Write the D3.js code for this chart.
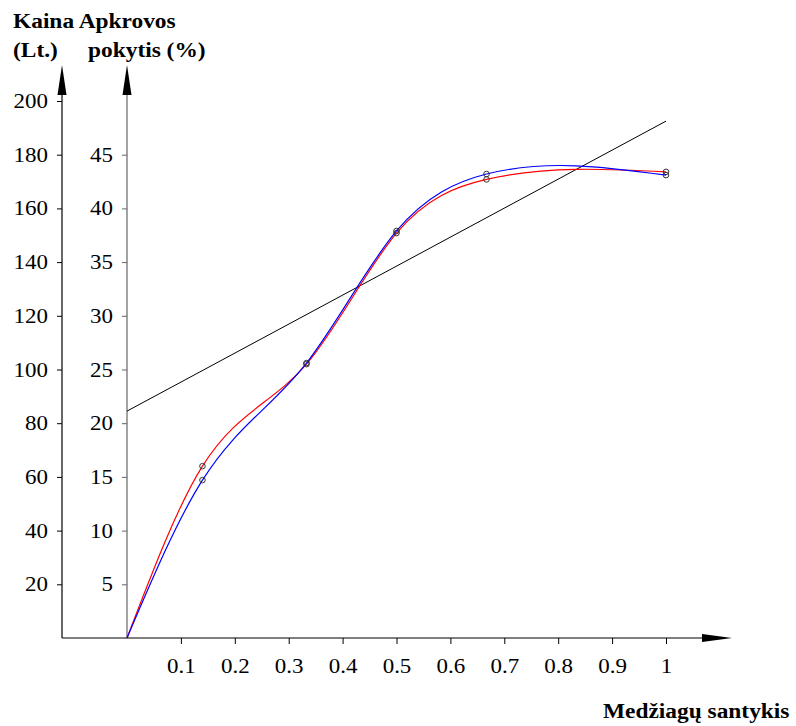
<!DOCTYPE html>
<meta charset="utf-8">
<script src="https://d3js.org/d3.v7.min.js"></script>
<style>
  body { margin: 0; background: #fff; }
</style>
<div id="chart"></div>
<script>

// data
var ratio = [0, 0.14, 0.333, 0.5, 0.667, 1];          // Medžiagų santykis
var loadRed = [0, 16.0, 25.5, 37.7, 42.7, 43.4];       // Apkrovos pokytis (%)
var loadBlue = [0, 14.7, 25.6, 37.9, 43.2, 43.1];
var priceLine = [{r: 0, lt: 84.5}, {r: 1, lt: 192.5}];  // Kaina (Lt.)
var priceTicks = [20, 40, 60, 80, 100, 120, 140, 160, 180, 200];
var loadTicks = [5, 10, 15, 20, 25, 30, 35, 40, 45];
var ratioTicks = [0.1, 0.2, 0.3, 0.4, 0.5, 0.6, 0.7, 0.8, 0.9, 1];

var width = 796, height = 726;
var serif = "'Liberation Serif'";
var stretch = 1.12;   // the original lettering is a little wider than normal

var svg = d3.select("#chart")
  .append("svg")
    .attr("width", width)
    .attr("height", height);

// scales
var x = d3.scaleLinear().domain([0, 1]).range([127, 666]);
var yPrice = d3.scaleLinear().domain([0, 200]).range([638, 101]);
var yLoad = d3.scaleLinear().domain([0, 50]).range([638, 101]);

var leftX = 62, topY = 65, arrowEnd = 732;

function styleLeftTicks(g) {
  g.select(".domain").remove();
  g.selectAll("text")
    .attr("x", 0)
    .attr("transform", "translate(-14,0) scale(" + stretch + ",1)")
    .style("font-family", serif)
    .style("font-size", "20.5px")
    .attr("fill", "#000");
}

// left axis (price)
svg.append("line")
  .attr("x1", leftX).attr("x2", leftX)
  .attr("y1", yPrice(0)).attr("y2", topY + 10)
  .attr("stroke", "#000").attr("stroke-width", 1.2);
svg.append("path")
  .attr("d", "M" + leftX + "," + topY + "L" + (leftX - 4.5) + "," + (topY + 30) + "L" + (leftX + 4.5) + "," + (topY + 30) + "Z")
  .attr("fill", "#000");

var gPrice = svg.append("g")
  .attr("transform", "translate(" + leftX + ",0)")
  .call(d3.axisLeft(yPrice).tickValues(priceTicks).tickSize(5));
styleLeftTicks(gPrice);

// right axis (load)
var midX = x(0);
svg.append("line")
  .attr("x1", midX).attr("x2", midX)
  .attr("y1", yLoad(0)).attr("y2", topY + 10)
  .attr("stroke", "#666").attr("stroke-width", 1.2);
svg.append("path")
  .attr("d", "M" + midX + "," + topY + "L" + (midX - 4.5) + "," + (topY + 30) + "L" + (midX + 4.5) + "," + (topY + 30) + "Z")
  .attr("fill", "#000");

var gLoad = svg.append("g")
  .attr("transform", "translate(" + midX + ",0)")
  .call(d3.axisLeft(yLoad).tickValues(loadTicks).tickSize(5));
styleLeftTicks(gLoad);
gLoad.selectAll("line").attr("stroke", "#666");

// x axis
svg.append("line")
  .attr("x1", leftX).attr("x2", arrowEnd - 10)
  .attr("y1", yLoad(0)).attr("y2", yLoad(0))
  .attr("stroke", "#000").attr("stroke-width", 1.2);
svg.append("path")
  .attr("d", "M" + arrowEnd + "," + yLoad(0) + "L" + (arrowEnd - 30) + "," + (yLoad(0) - 4) + "L" + (arrowEnd - 30) + "," + (yLoad(0) + 4) + "Z")
  .attr("fill", "#000");

var gX = svg.append("g")
  .attr("transform", "translate(0," + yLoad(0) + ")")
  .call(d3.axisBottom(x).tickValues(ratioTicks).tickSize(6)
    .tickFormat(function(d){ return d === 1 ? "1" : d3.format(".1f")(d); }));
gX.select(".domain").remove();
gX.selectAll("text")
  .attr("y", 0).attr("dy", 0)
  .attr("transform", "translate(0,35) scale(" + stretch + ",1)")
  .style("font-family", serif)
  .style("font-size", "20.5px")
  .attr("fill", "#000");

// price trend line
svg.append("line")
  .attr("x1", x(priceLine[0].r)).attr("y1", yPrice(priceLine[0].lt))
  .attr("x2", x(priceLine[1].r)).attr("y2", yPrice(priceLine[1].lt))
  .attr("stroke", "#000").attr("stroke-width", 1);

// natural cubic spline y(x), written out as bezier segments
function splinePath(pts) {
  var n = pts.length - 1, h = [], M = new Array(n + 1).fill(0);
  for (var i = 0; i < n; i++) h[i] = pts[i + 1][0] - pts[i][0];
  // tridiagonal system for second derivatives, M0 = Mn = 0
  var a = [], b = [], c = [], r = [];
  for (var i = 1; i < n; i++) {
    a[i] = h[i - 1]; b[i] = 2 * (h[i - 1] + h[i]); c[i] = h[i];
    r[i] = 6 * ((pts[i + 1][1] - pts[i][1]) / h[i] - (pts[i][1] - pts[i - 1][1]) / h[i - 1]);
  }
  for (var i = 2; i < n; i++) {
    var w = a[i] / b[i - 1];
    b[i] -= w * c[i - 1]; r[i] -= w * r[i - 1];
  }
  for (var i = n - 1; i >= 1; i--) M[i] = (r[i] - (i < n - 1 ? c[i] * M[i + 1] : 0)) / b[i];
  var m = [];
  for (var i = 0; i < n; i++) m[i] = (pts[i + 1][1] - pts[i][1]) / h[i] - h[i] * (2 * M[i] + M[i + 1]) / 6;
  m[n] = (pts[n][1] - pts[n - 1][1]) / h[n - 1] + h[n - 1] * (M[n - 1] + 2 * M[n]) / 6;

  var p = d3.path();
  p.moveTo(pts[0][0], pts[0][1]);
  for (var i = 0; i < n; i++) {
    var d = h[i] / 3;
    p.bezierCurveTo(pts[i][0] + d, pts[i][1] + m[i] * d,
                    pts[i + 1][0] - d, pts[i + 1][1] - m[i + 1] * d,
                    pts[i + 1][0], pts[i + 1][1]);
  }
  return p.toString();
}

function drawSeries(vals, color) {
  var pts = ratio.map(function(r, i){ return [x(r), yLoad(vals[i])]; });
  svg.append("path")
    .attr("d", splinePath(pts))
    .attr("fill", "none")
    .attr("stroke", color)
    .attr("stroke-width", 1.2);
  svg.selectAll(null)
    .data(pts.slice(1))
    .enter()
    .append("circle")
      .attr("cx", function(d){ return d[0]; })
      .attr("cy", function(d){ return d[1]; })
      .attr("r", 2.8)
      .attr("fill", "none")
      .attr("stroke", "#333")
      .attr("stroke-width", 1);
}
drawSeries(loadRed, "#ff0000");
drawSeries(loadBlue, "#0000ff");

// titles
var titles = [
  {t: "Kaina Apkrovos", x: 13, y: 28},
  {t: "(Lt.)", x: 13, y: 57},
  {t: "pokytis (%)", x: 88, y: 57},
  {t: "Medžiagų santykis", x: 603, y: 718}
];
svg.selectAll(null)
  .data(titles)
  .enter()
  .append("text")
    .attr("transform", function(d){ return "translate(" + d.x + "," + d.y + ") scale(1.17,1)"; })
    .style("font-family", serif)
    .style("font-size", "20px")
    .style("font-weight", "bold")
    .text(function(d){ return d.t; });

</script>
